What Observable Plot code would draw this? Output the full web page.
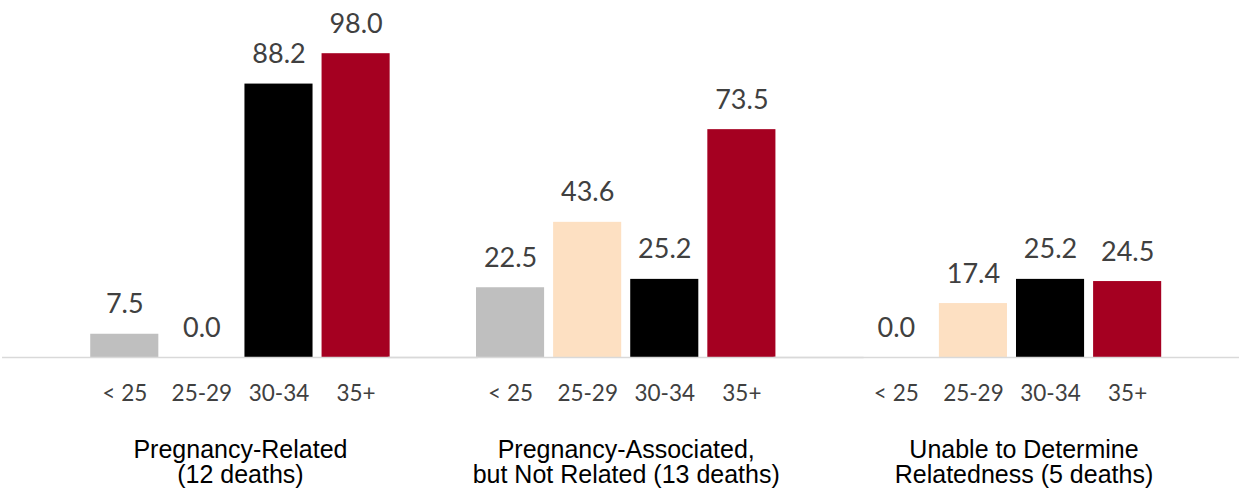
<!DOCTYPE html>
<html><head><meta charset="utf-8">
<script src="https://cdn.jsdelivr.net/npm/d3@7"></script>
<script src="https://cdn.jsdelivr.net/npm/@observablehq/plot@0.6"></script>
<style>body{margin:0;background:#fff}</style>
</head><body><div id="chart"></div>
<script>
const groups = ["Pregnancy-Related\n(12 deaths)", "Pregnancy-Associated,\nbut Not Related (13 deaths)", "Unable to Determine\nRelatedness (5 deaths)"];
const ages = ["< 25", "25-29", "30-34", "35+"];
const pregnancyRelated = [7.5, 0.0, 88.2, 98.0];
const pregnancyAssociated = [22.5, 43.6, 25.2, 73.5];
const unableToDetermine = [0.0, 17.4, 25.2, 24.5];
const ageColors = ["#bfbfbf", "#fde0c2", "#000000", "#a50021"];

const series = [pregnancyRelated, pregnancyAssociated, unableToDetermine];
const rows = [];
groups.forEach((g, gi) => ages.forEach((a, ai) => rows.push({group: g, age: a, value: series[gi][ai]})));

const groupLabelStyle = {frameAnchor: "bottom", lineAnchor: "top", dy: 82,
  fontSize: 25, fontFamily: "Liberation Sans", fill: "#000", lineHeight: 1.02};

const chart = Plot.plot({
  width: 1239,
  height: 488,
  marginTop: 47,
  marginBottom: 131,
  marginLeft: 8,
  marginRight: 0,
  style: {color: "#404040", background: "#fff"},
  fx: {domain: groups, axis: null, paddingInner: 0, paddingOuter: 0.0955, align: 0.53, round: false},
  x: {domain: ages, paddingInner: 0.117, paddingOuter: 0.56, round: false},
  y: {domain: [0, 100], axis: null},
  color: {domain: ages, range: ageColors},
  marks: [
    Plot.barY(rows, {fx: "group", x: "age", y: "value", fill: "age"}),
    Plot.ruleY([0], {stroke: "#d9d9d9", strokeWidth: 1.5, insetLeft: -45, insetRight: -45}),
    Plot.text(rows, {fx: "group", x: "age", y: "value", text: d => d3.format(".1f")(d.value),
      lineAnchor: "bottom", dy: -21, fontSize: 27, fontFamily: "Lato", fill: "#404040"}),
    Plot.axisX({tickSize: 0, tickPadding: 28, fontSize: 22.5, fontFamily: "Lato", label: null}),
    Plot.text(groups.slice(0, 2), {fx: d => d, text: d => d, ...groupLabelStyle}),
    Plot.text(groups.slice(2), {fx: d => d, text: d => d, ...groupLabelStyle, dx: 12})
  ]
});
document.getElementById("chart").appendChild(chart);
</script>
</body></html>
